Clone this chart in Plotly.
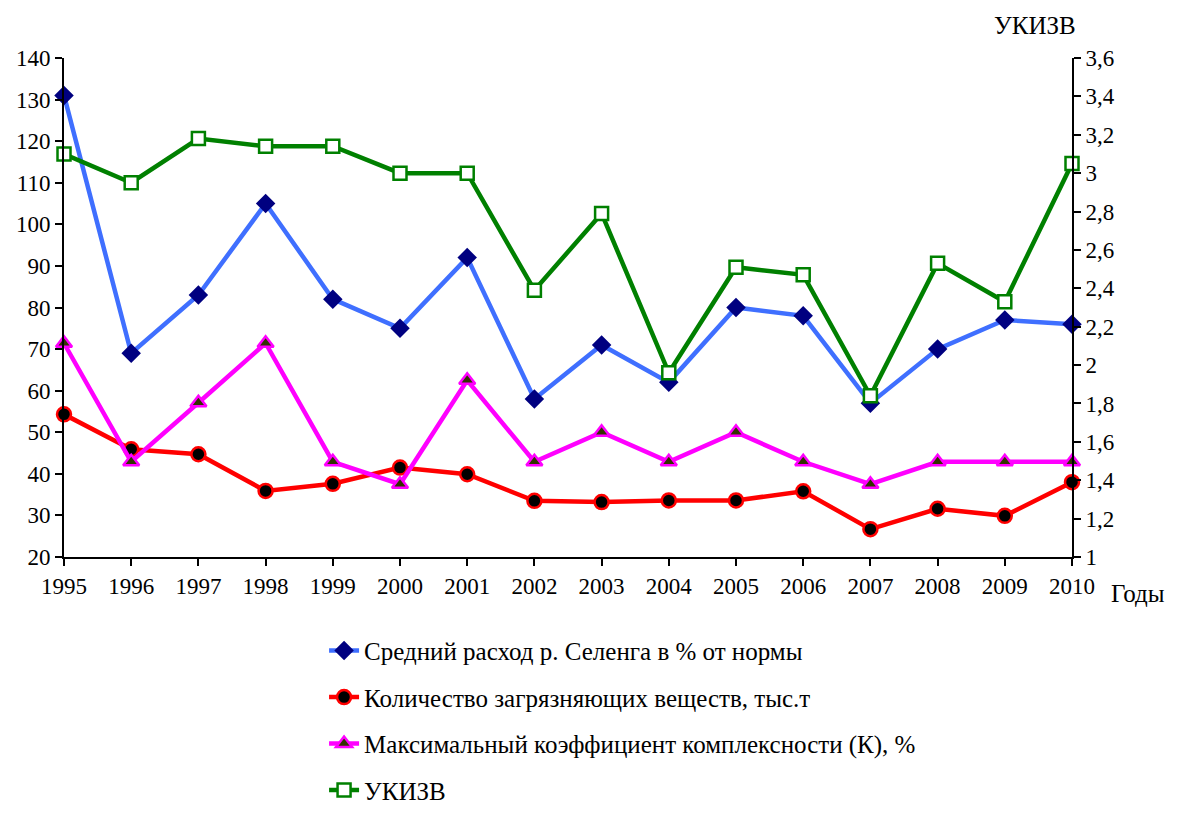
import plotly.graph_objects as go

years = list(range(1995, 2011))
flow_pct = [131, 69, 83, 105, 82, 75, 92, 58, 71, 62, 80, 78, 57, 70, 77, 76]
pollutants = [54.3, 45.9, 44.7, 35.9, 37.6, 41.5, 39.9, 33.5, 33.2, 33.6, 33.6, 35.8, 26.7, 31.6, 29.9, 38.0]
k_max = [71.4, 42.9, 57.1, 71.4, 42.9, 37.5, 62.5, 42.9, 50.0, 42.9, 50.0, 42.9, 37.5, 42.9, 42.9, 42.9]
ukizv = [3.10, 2.95, 3.18, 3.14, 3.14, 3.00, 3.00, 2.39, 2.79, 1.96, 2.51, 2.47, 1.84, 2.53, 2.33, 3.05]

names = ["Средний расход р. Селенга в % от нормы",
         "Количество загрязняющих веществ, тыс.т",
         "Максимальный коэффициент комплексности (К), %",
         "УКИЗВ"]

left_ticks = [20, 30, 40, 50, 60, 70, 80, 90, 100, 110, 120, 130, 140]
right_ticks = [1, 1.2, 1.4, 1.6, 1.8, 2, 2.2, 2.4, 2.6, 2.8, 3, 3.2, 3.4, 3.6]
right_labels = ["1", "1,2", "1,4", "1,6", "1,8", "2", "2,2", "2,4", "2,6", "2,8", "3", "3,2", "3,4", "3,6"]

FONT = "Liberation Serif"

fig = go.Figure()
fig.add_trace(go.Scatter(x=years, y=flow_pct, name=names[0], mode="lines+markers",
                         line=dict(color="#3F6FFF", width=4.5),
                         marker=dict(symbol="diamond", size=15, color="#000080"),
                         cliponaxis=False, legendgroup="a"))
fig.add_trace(go.Scatter(x=years, y=pollutants, name=names[1], mode="lines+markers",
                         line=dict(color="#FF0000", width=4.5),
                         marker=dict(symbol="circle", size=14, color="#000000",
                                     line=dict(color="#FF0000", width=2.5)),
                         cliponaxis=False, legendgroup="b"))
fig.add_trace(go.Scatter(x=years, y=k_max, name=names[2], mode="lines+markers",
                         line=dict(color="#FF00FF", width=4.5),
                         marker=dict(symbol="triangle-up", size=14, color="#333300",
                                     line=dict(color="#FF00FF", width=2.5)),
                         cliponaxis=False, legendgroup="c"))
fig.add_trace(go.Scatter(x=years, y=ukizv, name=names[3], mode="lines+markers", yaxis="y2",
                         line=dict(color="#008000", width=4.5),
                         marker=dict(symbol="square", size=13, color="#FFFFFF",
                                     line=dict(color="#008000", width=2.5)),
                         cliponaxis=False, legendgroup="d"))

axis_common = dict(showgrid=False, zeroline=False, showline=True, linecolor="black", linewidth=2,
                   ticks="outside", ticklen=7, tickwidth=2, tickcolor="black",
                   tickfont=dict(family=FONT, size=23, color="black"))

fig.update_layout(
    width=1172, height=797,
    paper_bgcolor="white", plot_bgcolor="white",
    margin=dict(l=56, r=108, t=50, b=248, autoexpand=False),
    font=dict(family=FONT, size=23, color="black"),
    xaxis=dict(range=[1995, 2010], tickvals=years, ticktext=[str(y) for y in years], **axis_common),
    yaxis=dict(range=[20, 140], tickvals=left_ticks, **axis_common),
    yaxis2=dict(range=[1, 3.6], tickvals=right_ticks, ticktext=right_labels, overlaying="y",
                side="right", **axis_common),
    showlegend=True,
    legend=dict(x=0.258, xanchor="left", y=-0.142, yanchor="top", orientation="v",
                traceorder="grouped", tracegroupgap=11,
                font=dict(family=FONT, size=25, color="black"), bgcolor="rgba(0,0,0,0)"),
    annotations=[
        dict(text="УКИЗВ", xref="paper", yref="paper", x=1.0, xshift=-37, y=1.0, yshift=33,
             showarrow=False, xanchor="center", yanchor="middle",
             font=dict(family=FONT, size=25, color="black")),
        dict(text="Годы", xref="paper", yref="paper", x=1.0, xshift=66, y=0, yshift=-36,
             showarrow=False, xanchor="center", yanchor="middle",
             font=dict(family=FONT, size=25, color="black")),
    ],
)

fig.write_html("out.html", config={"displayModeBar": False})
